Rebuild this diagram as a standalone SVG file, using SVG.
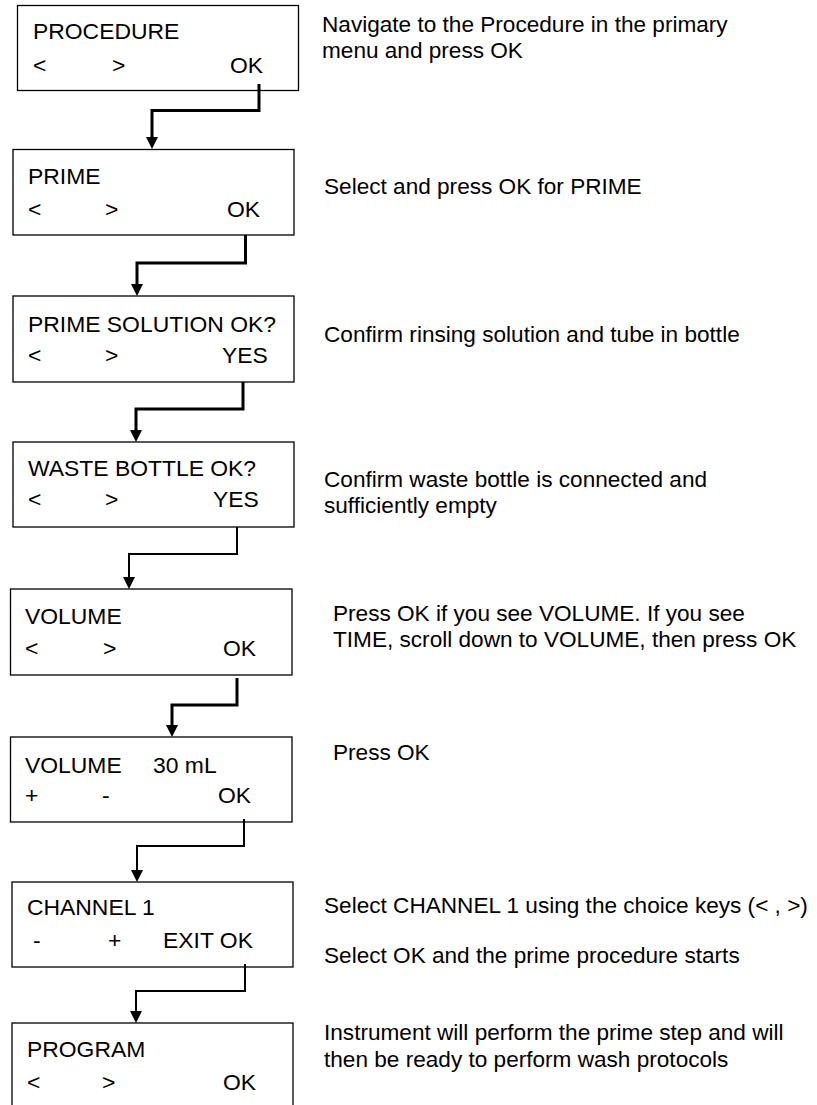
<svg xmlns="http://www.w3.org/2000/svg" width="817" height="1105" viewBox="0 0 817 1105">
<style>
  .box { fill: #fff; stroke: #000; stroke-width: 1.3; }
  text { font-family: "Liberation Sans", Arial, sans-serif; font-size: 22.9px; fill: #000; }
  .note { font-size: 22.6px; }
  .c { fill: none; stroke: #000; stroke-linejoin: miter; }
  .thick { stroke-width: 3; }
  .thin { stroke-width: 2; }
</style>
<defs>
  <marker id="arr" markerUnits="userSpaceOnUse" markerWidth="12" markerHeight="12" refX="0" refY="6" orient="auto" viewBox="0 0 12 12">
    <path d="M0,0 L12,6 L0,12 z" fill="#000"/>
  </marker>
</defs>
<rect width="817" height="1105" fill="#fff"/>

<g id="n1">
  <rect class="box" x="17.5" y="5.5" width="281" height="85"/>
  <text x="33" y="39">PROCEDURE</text>
  <text x="33" y="73">&lt;</text><text x="112" y="73">&gt;</text><text x="230" y="73">OK</text>
</g>
<g id="n2">
  <rect class="box" x="13" y="149.5" width="281" height="85.5"/>
  <text x="28" y="184">PRIME</text>
  <text x="28" y="217">&lt;</text><text x="105" y="217">&gt;</text><text x="227" y="217">OK</text>
</g>
<g id="n3">
  <rect class="box" x="13" y="296" width="281" height="86"/>
  <text x="28" y="332">PRIME SOLUTION OK?</text>
  <text x="28" y="363">&lt;</text><text x="105" y="363">&gt;</text><text x="222" y="363">YES</text>
</g>
<g id="n4">
  <rect class="box" x="13" y="442" width="281" height="85"/>
  <text x="28" y="476">WASTE BOTTLE OK?</text>
  <text x="28" y="507">&lt;</text><text x="105" y="507">&gt;</text><text x="213" y="507">YES</text>
</g>
<g id="n5">
  <rect class="box" x="10.5" y="589" width="281.5" height="86"/>
  <text x="25" y="624">VOLUME</text>
  <text x="25" y="656">&lt;</text><text x="103" y="656">&gt;</text><text x="223" y="656">OK</text>
</g>
<g id="n6">
  <rect class="box" x="10.5" y="737" width="281.5" height="85"/>
  <text x="25" y="773">VOLUME</text><text x="153" y="773">30 mL</text>
  <text x="25" y="803">+</text><text x="102" y="803">-</text><text x="218" y="803">OK</text>
</g>
<g id="n7">
  <rect class="box" x="12" y="882" width="281" height="85"/>
  <text x="27" y="915">CHANNEL 1</text>
  <text x="33" y="948">-</text><text x="108" y="948">+</text><text x="163" y="948">EXIT OK</text>
</g>
<g id="n8">
  <rect class="box" x="12" y="1023" width="281" height="100"/>
  <text x="27" y="1057">PROGRAM</text>
  <text x="27" y="1090">&lt;</text><text x="102" y="1090">&gt;</text><text x="223" y="1090">OK</text>
</g>

<g id="notes">
  <text class="note" x="322" y="32">Navigate to the Procedure in the primary</text>
  <text class="note" x="322" y="58">menu and press OK</text>
  <text class="note" x="324" y="194">Select and press OK for PRIME</text>
  <text class="note" x="324" y="342">Confirm rinsing solution and tube in bottle</text>
  <text class="note" x="324" y="487">Confirm waste bottle is connected and</text>
  <text class="note" x="324" y="513">sufficiently empty</text>
  <text class="note" x="333" y="621">Press OK if you see VOLUME. If you see</text>
  <text class="note" x="333" y="647">TIME, scroll down to VOLUME, then press OK</text>
  <text class="note" x="333" y="760">Press OK</text>
  <text class="note" x="324" y="913">Select CHANNEL 1 using the choice keys (&lt; , &gt;)</text>
  <text class="note" x="324" y="963">Select OK and the prime procedure starts</text>
  <text class="note" x="324" y="1040">Instrument will perform the prime step and will</text>
  <text class="note" x="324" y="1067">then be ready to perform wash protocols</text>
</g>

<g id="connectors">
  <path class="c thick" d="M259,84 V110.5 H152 V137" marker-end="url(#arr)"/>
  <path class="c thick" d="M245.5,235 V263 H137 V284" marker-end="url(#arr)"/>
  <path class="c thick" d="M243,382 V409 H136 V430" marker-end="url(#arr)"/>
  <path class="c thin" d="M237,527 V554 H129 V577" marker-end="url(#arr)"/>
  <path class="c thick" d="M237,678 V705 H172 V725" marker-end="url(#arr)"/>
  <path class="c thin" d="M244,819 V846 H137 V870" marker-end="url(#arr)"/>
  <path class="c thin" d="M245,964 V991 H136 V1011" marker-end="url(#arr)"/>
</g>
</svg>
